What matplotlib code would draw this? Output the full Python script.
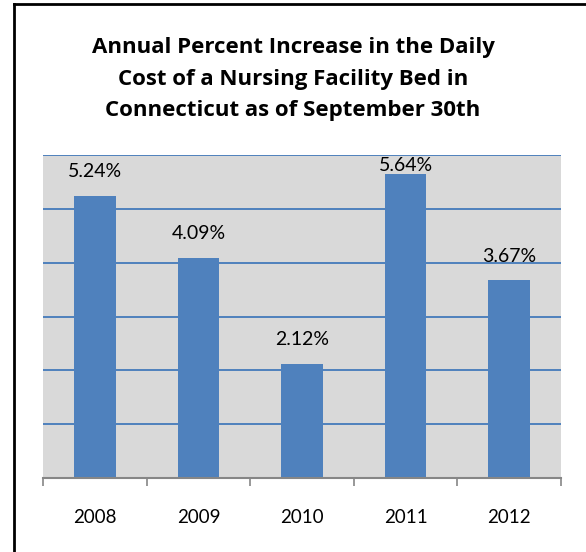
import matplotlib.pyplot as plt
from matplotlib.lines import Line2D
import numpy as np

years = ['2008', '2009', '2010', '2011', '2012']
increase = [5.24, 4.09, 2.12, 5.64, 3.67]
title = 'Annual Percent Increase in the Daily\nCost of a Nursing Facility Bed in\nConnecticut as of September 30th'

plt.rcParams['font.family'] = ['Lato', 'DejaVu Sans']

fig = plt.figure(figsize=(5.86, 5.52), dpi=100)
ax = fig.add_axes([43 / 586, 74 / 552, 518 / 586, 323 / 552])

x = np.arange(len(years))
ax.set_facecolor('#d9d9d9')
ax.bar(x, increase, width=0.4, color='#4f81bd', zorder=2)

ax.set_xlim(-0.5, len(years) - 0.5)
ax.set_ylim(0, 6)
ax.set_yticks(np.arange(1, 7))
ax.yaxis.grid(True, color='#4f81bd', linewidth=1.4, zorder=1)
ax.tick_params(axis='y', length=0, labelleft=False)

# ticks at category boundaries, labels at centres
ax.set_xticks(np.arange(-0.5, len(years)))
ax.set_xticklabels([])
ax.set_xticks(x, minor=True)
ax.set_xticklabels(years, minor=True, fontsize=13.5)
ax.tick_params(axis='x', which='major', length=6, color='#868686', width=1.2)
ax.tick_params(axis='x', which='minor', length=0, pad=22)

for s in ['top', 'left', 'right']:
    ax.spines[s].set_visible(False)
ax.spines['bottom'].set_color('#868686')
ax.spines['bottom'].set_linewidth(1.5)

for xi, v in zip(x, increase):
    ax.text(xi, min(v + 0.45, 5.8), f'{v:.2f}%', ha='center', va='center',
            fontsize=14, zorder=3)

fig.text(0.5, 1 - 79 / 552, title, ha='center', va='center', fontsize=16,
         fontfamily=['Open Sans', 'DejaVu Sans'], fontweight='bold', linespacing=1.68)

# border on left and top edges
fig.add_artist(Line2D([14 / 586, 14 / 586], [0, 1 - 4 / 552], color='black',
                      linewidth=2, transform=fig.transFigure))
fig.add_artist(Line2D([14 / 586, 1], [1 - 4 / 552, 1 - 4 / 552], color='black',
                      linewidth=2, transform=fig.transFigure))

fig.savefig('out.png', dpi=100)
